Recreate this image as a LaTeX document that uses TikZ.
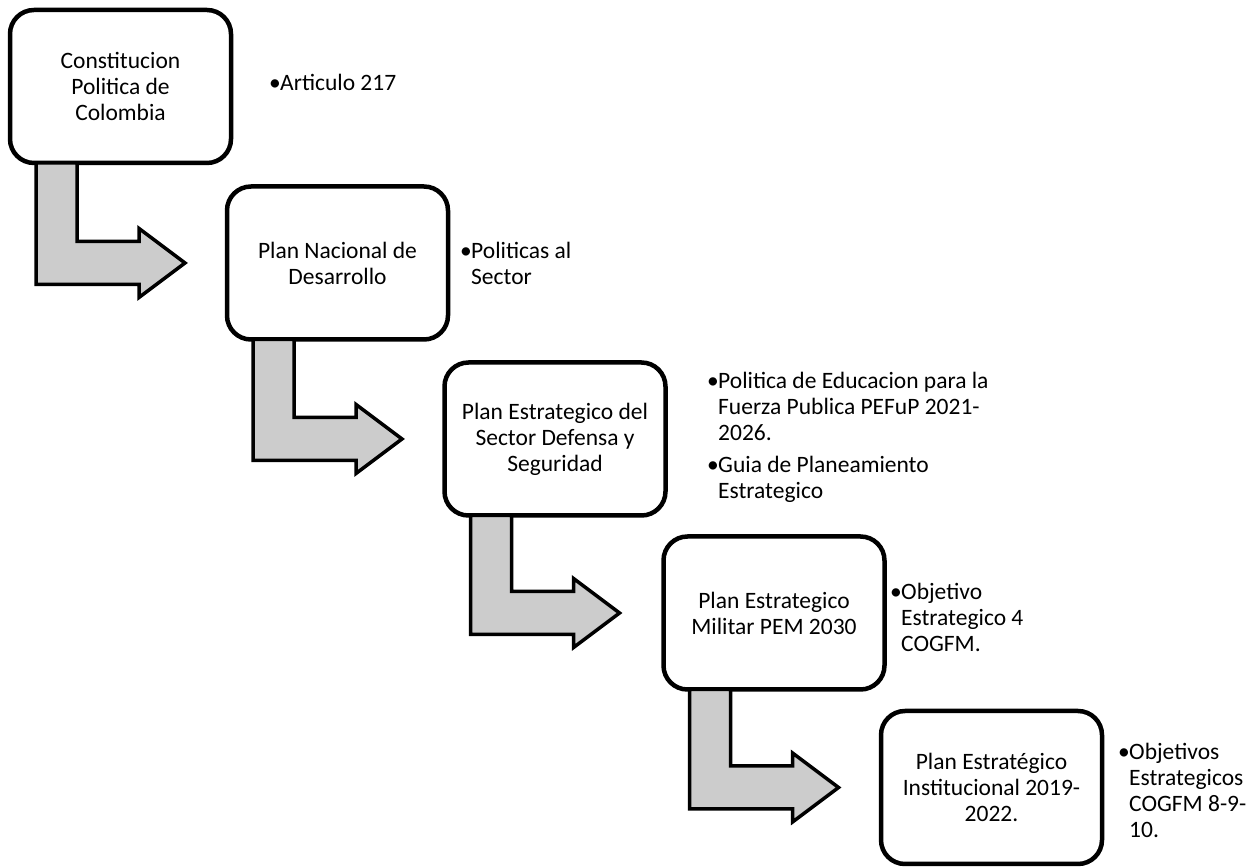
\documentclass[tikz,border=0pt]{standalone}
\usepackage{fontspec}
\setmainfont{Carlito}
\usetikzlibrary{positioning,calc}
\newcommand{\bulmark}{\makebox[11pt][l]{•}}
\newcommand{\bulind}{\hspace*{11pt}}
\newcommand{\elbow}[2]{%
  \draw[elbowarrow] let \p1=(#1.south west), \p2=(#2.west) in
    (\x1+26pt,\y1) -- (\x1+26pt,\y2-21.5pt) -- (\x1+129pt,\y2-21.5pt)
    -- (\x1+129pt,\y2-34.5pt) -- (\x1+175pt,\y2) -- (\x1+129pt,\y2+34.5pt)
    -- (\x1+129pt,\y2+21.5pt) -- (\x1+67pt,\y2+21.5pt) -- (\x1+67pt,\y1) -- cycle;}

\begin{document}
\begin{tikzpicture}[x=1pt,y=1pt,
  every node/.style={font=\fontsize{23.5}{26}\selectfont},
  planbox/.style={draw,line width=4.5pt,rounded corners=24pt,fill=white,
    minimum width=221pt,minimum height=153pt,inner sep=0pt,outer sep=0pt,align=center},
  note/.style={inner sep=0pt,align=left},
  elbowarrow/.style={draw=black,fill=black!20,line width=3.5pt}]
\fill[white] (0,0) rectangle (1253,867);
\useasboundingbox (0,0) rectangle (1253,867);
\node[planbox] (b1) at (120.5,780.5) {Constitucion\\Politica de\\Colombia};
\node[planbox] (b2) at (337.5,604) {Plan Nacional de\\Desarrollo};
\node[planbox] (b3) at (555,428) {Plan Estrategico del\\Sector Defensa y\\Seguridad};
\node[planbox] (b4) at (774,254) {Plan Estrategico\\Militar PEM 2030};
\node[planbox] (b5) at (991.5,79.5) {Plan Estratégico\\Institucional 2019-\\2022.};
\elbow{b1}{b2}
\elbow{b2}{b3}
\elbow{b3}{b4}
\elbow{b4}{b5}
\node[note,right=38pt of b1,yshift=4.5pt] (n1) {\bulmark Articulo 217};
\node[note,right=12pt of b2] (n2) {\bulmark Politicas al\\ \bulind Sector};
\node[note,right=41.5pt of b3,yshift=2pt] (n3) {\bulmark Politica de Educacion para la\\ \bulind Fuerza Publica PEFuP 2021-\\ \bulind 2026.\\[6pt] \bulmark Guia de Planeamiento\\ \bulind Estrategico};
\node[note,right=5.5pt of b4,yshift=-4pt] (n4) {\bulmark Objetivo\\ \bulind Estrategico 4\\ \bulind COGFM.};
\node[note,right=16pt of b5,yshift=-2.5pt] (n5) {\bulmark Objetivos\\ \bulind Estrategicos\\ \bulind COGFM 8-9-\\ \bulind 10.};
\end{tikzpicture}
\end{document}
